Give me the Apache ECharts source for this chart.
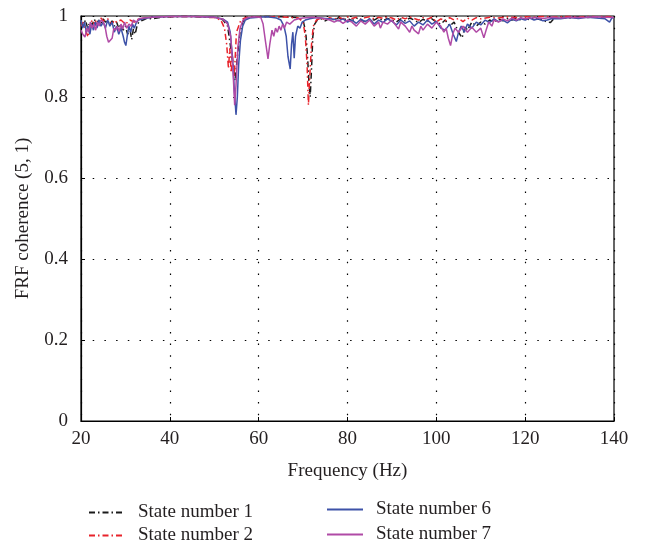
<!DOCTYPE html>
<html>
<head>
<meta charset="utf-8">
<script src="https://cdn.jsdelivr.net/npm/echarts@6/dist/echarts.min.js"></script>
<style>
  html, body { margin: 0; padding: 0; background: #fff; }
  #chart { width: 653px; height: 548px; }
</style>
</head>
<body>
<div id="chart"></div>
<script>
// Frequency-response coherence between points 5 and 1 for four structural states.

const xTicks = [20, 40, 60, 80, 100, 120, 140];
const yTicks = [0, 0.2, 0.4, 0.6, 0.8, 1];

// State number 1
const freq1 = [20,20.5,21,21.5,22,22.5,23,23.5,24,24.5,25,25.5,26,26.5,27,27.5,28,28.5,29,29.5,30,30.5,31,31.4,31.8,32.2,32.6,33,34,35,36,38,40,44,48,51,52,53,53.6,54.2,54.7,55.2,55.8,56.4,57,58,62,66,69,70,70.6,71,71.3,71.6,71.9,72.2,72.6,73.2,74,75,76,77,78,79,80,81,82,83,84,85,86,87,88,89,90,91,92,93,94,95,96,97,98,99,100,101,102,103,104,105,105.8,106.5,107,108,109,110,111,112,113,114,115,116,117,118,119,120,121,122,123,124,125,125.7,126.5,128,130,132,134,136,138,140];
const coh1 = [0.985,0.975,0.99,0.97,0.985,0.978,0.992,0.98,0.99,0.982,0.993,0.985,0.99,0.978,0.988,0.975,0.985,0.97,0.98,0.965,0.975,0.955,0.97,0.942,0.968,0.955,0.975,0.985,0.99,0.995,0.993,0.997,0.998,0.999,0.998,0.996,0.99,0.975,0.93,0.88,0.84,0.9,0.96,0.985,0.995,0.998,0.999,0.998,0.996,0.99,0.96,0.9,0.84,0.8,0.87,0.95,0.98,0.99,0.993,0.988,0.995,0.99,0.996,0.99,0.994,0.988,0.995,0.99,0.986,0.993,0.99,0.996,0.988,0.994,0.99,0.985,0.993,0.988,0.995,0.99,0.984,0.992,0.986,0.993,0.985,0.98,0.99,0.975,0.985,0.96,0.946,0.975,0.965,0.985,0.975,0.985,0.98,0.99,0.985,0.993,0.988,0.994,0.99,0.995,0.99,0.994,0.991,0.996,0.992,0.99,0.985,0.984,0.994,0.997,0.995,0.998,0.996,0.998,0.997,0.998];

// State number 2
const freq2 = [20,20.5,21,21.6,22,22.5,23,23.5,24,24.5,25,26,27,27.5,28,29,30,31,32,33,35,38,42,46,50,51.5,52.3,52.8,53.2,53.5,53.8,54.1,54.5,55,56,57,60,65,69,70,70.5,70.9,71.2,71.5,71.9,72.3,73,74,75,76,77,78,79,80,81,82,83,84,85,86,87,88,89,90,91,92,93,94,95,96,97,98,99,100,101,102,103,104,105,106,107,108,109,110,112,114,116,118,120,122,124,126,128,130,132,134,136,138,140];
const coh2 = [0.975,0.985,0.965,0.948,0.975,0.99,0.98,0.99,0.985,0.995,0.988,0.993,0.98,0.99,0.985,0.99,0.98,0.99,0.985,0.993,0.996,0.998,0.999,0.998,0.996,0.99,0.97,0.93,0.87,0.92,0.86,0.9,0.85,0.96,0.99,0.996,0.998,0.998,0.995,0.985,0.95,0.88,0.78,0.85,0.93,0.975,0.99,0.995,0.99,0.996,0.992,0.997,0.993,0.998,0.994,0.997,0.992,0.996,0.998,0.993,0.997,0.994,0.998,0.995,0.99,0.997,0.993,0.998,0.994,0.99,0.996,0.992,0.997,0.985,0.993,0.988,0.996,0.99,0.994,0.986,0.995,0.99,0.996,0.993,0.997,0.995,0.998,0.996,0.998,0.997,0.999,0.997,0.998,0.999,0.997,0.999,0.998,0.999,0.998];

// State number 6
const freq6 = [20,20.4,20.8,21.2,21.6,22,22.4,22.8,23.2,23.6,24,24.5,25,25.5,26,26.5,27,27.5,28,28.5,29,29.5,29.8,30.1,30.4,30.8,31.2,31.6,32,32.5,33,34,36,40,45,50,52,53,53.6,54.1,54.5,54.9,55.2,55.5,55.9,56.4,57,58,60,62,64,65,65.7,66.2,66.6,67.1,67.4,67.7,68,68.3,68.8,69.3,69.8,70.5,71.5,73,75,77,78,79,80,81,82,83,84,85,86,87,88,89,90,91,92,93,94,95,96,97,98,99,100,101,102,103,103.8,104.5,105,105.6,106.3,107,108,109,110,111,112,113,114,115,116,117,118,119,120,121,122,123,124,125,126,128,130,132,134,136,138,139,139.5,140];
const coh6 = [0.99,0.97,0.985,0.96,0.975,0.955,0.98,0.965,0.985,0.97,0.99,0.975,0.985,0.97,0.99,0.975,0.985,0.96,0.975,0.955,0.97,0.95,0.935,0.927,0.95,0.975,0.96,0.98,0.97,0.985,0.99,0.993,0.997,0.999,0.999,0.997,0.992,0.985,0.96,0.9,0.82,0.756,0.8,0.88,0.94,0.975,0.99,0.995,0.997,0.998,0.995,0.99,0.975,0.95,0.9,0.869,0.93,0.96,0.896,0.95,0.975,0.97,0.985,0.99,0.993,0.996,0.994,0.992,0.988,0.993,0.985,0.99,0.982,0.992,0.986,0.993,0.98,0.99,0.984,0.993,0.987,0.978,0.99,0.982,0.988,0.975,0.985,0.978,0.99,0.98,0.987,0.97,0.965,0.98,0.955,0.937,0.96,0.975,0.96,0.98,0.97,0.985,0.978,0.99,0.984,0.993,0.986,0.99,0.983,0.992,0.988,0.993,0.99,0.995,0.99,0.993,0.988,0.99,0.994,0.993,0.996,0.994,0.997,0.995,0.993,0.985,0.995,0.996];

// State number 7
const freq7 = [20,20.4,20.9,21.3,21.7,22.1,22.5,22.9,23.3,23.7,24.1,24.5,25,25.4,25.8,26.2,26.6,27,27.4,27.8,28.2,28.6,29,29.4,29.8,30.3,30.8,31.3,31.8,32.5,33,34,36,40,46,50,52,53,53.7,54.2,54.6,54.9,55.3,55.8,56.5,57.5,59,60.5,61,61.5,62.1,62.5,63,63.4,63.8,64.2,64.6,65,65.4,65.8,66.3,67,68,69,70,72,74,76,77,78,79,80,81,82,83,84,85,86,87,87.4,88,89,90,91,91.5,92,93,94,94.5,95,96,96.5,97,98,99,100,101,101.7,102.2,102.7,103.2,103.7,104.2,105,106,107,108,109,110,110.7,111.2,111.8,112.5,113,114,115,116,117,118,119,120,122,124,126,128,130,133,136,138,140];
const coh7 = [0.965,0.955,0.948,0.97,0.96,0.985,0.97,0.98,0.965,0.985,0.975,0.99,0.985,0.975,0.95,0.935,0.931,0.945,0.97,0.965,0.975,0.962,0.98,0.968,0.985,0.97,0.98,0.975,0.99,0.985,0.993,0.995,0.997,0.999,0.999,0.997,0.992,0.98,0.95,0.87,0.78,0.83,0.92,0.97,0.99,0.996,0.998,0.996,0.98,0.94,0.894,0.93,0.965,0.95,0.97,0.96,0.975,0.965,0.98,0.97,0.985,0.98,0.99,0.993,0.995,0.997,0.995,0.99,0.985,0.99,0.982,0.99,0.985,0.975,0.988,0.98,0.99,0.975,0.985,0.97,0.985,0.98,0.99,0.975,0.968,0.985,0.975,0.96,0.975,0.965,0.956,0.975,0.965,0.98,0.97,0.985,0.975,0.96,0.97,0.945,0.927,0.955,0.97,0.96,0.975,0.96,0.972,0.96,0.97,0.946,0.965,0.985,0.975,0.99,0.985,0.993,0.988,0.995,0.99,0.996,0.993,0.996,0.994,0.997,0.995,0.997,0.996,0.998,0.997,0.996];

const seriesNames = ['State number 1', 'State number 2', 'State number 6', 'State number 7'];
const seriesColors = ['#1a1a1a', '#e8232b', '#3d52a8', '#b04aa6'];
const seriesDash = [[6, 3, 1.5, 3], [6, 3, 1.5, 3], 'solid', 'solid'];
const freqs = [freq1, freq2, freq6, freq7];
const cohs = [coh1, coh2, coh6, coh7];

// Legend key placement: two columns of two entries
const legendLeft = [83, 83, 321, 321];
const legendTop = [498, 521, 495, 520];

const FONT = '"Liberation Serif", "Times New Roman", serif';
const TEXT = '#231f20';

const pairs = (xs, ys) => xs.map((x, i) => [x, ys[i]]);

const chart = echarts.init(document.getElementById('chart'), null, { renderer: 'canvas' });

const gridDots = { show: true, lineStyle: { color: '#000', width: 1.2, type: [1.5, 10.2] } };

chart.setOption({
  animation: false,
  backgroundColor: '#fff',
  grid: {
    left: 81, right: 39, top: 16, bottom: 127,
    show: true, borderColor: '#000', borderWidth: 1.2
  },
  xAxis: {
    type: 'value',
    min: xTicks[0], max: xTicks[xTicks.length - 1], interval: 20,
    name: 'Frequency (Hz)', nameLocation: 'middle', nameGap: 41,
    nameTextStyle: { fontFamily: FONT, fontSize: 19, color: TEXT },
    axisLine: { lineStyle: { color: '#000', width: 1.2 } },
    axisTick: { inside: true, length: 4, lineStyle: { color: '#000' } },
    axisLabel: { fontFamily: FONT, fontSize: 19, color: TEXT, margin: 9 },
    splitLine: gridDots
  },
  yAxis: {
    type: 'value',
    min: yTicks[0], max: yTicks[yTicks.length - 1], interval: 0.2,
    name: 'FRF coherence (5, 1)', nameLocation: 'middle', nameGap: 48,
    nameTextStyle: { fontFamily: FONT, fontSize: 19, color: TEXT },
    axisLine: { lineStyle: { color: '#000', width: 1.2 } },
    axisTick: { inside: true, length: 4, lineStyle: { color: '#000' } },
    axisLabel: { fontFamily: FONT, fontSize: 19, color: TEXT, margin: 13 },
    splitLine: gridDots
  },
  legend: seriesNames.map((name, i) => ({
    data: [name],
    left: legendLeft[i], top: legendTop[i],
    itemWidth: 36, itemHeight: 14,
    itemStyle: { opacity: 0, borderWidth: 0 },
    lineStyle: { width: 2 },
    textStyle: { fontFamily: FONT, fontSize: 19, color: TEXT, padding: [0, 0, 0, 8] }
  })),
  series: seriesNames.map((name, i) => ({
    name,
    type: 'line',
    data: pairs(freqs[i], cohs[i]),
    showSymbol: false,
    symbol: 'none',
    color: seriesColors[i],
    lineStyle: { color: seriesColors[i], width: 1.5, type: seriesDash[i] },
    z: 2 + i
  }))
});
</script>
</body>
</html>
